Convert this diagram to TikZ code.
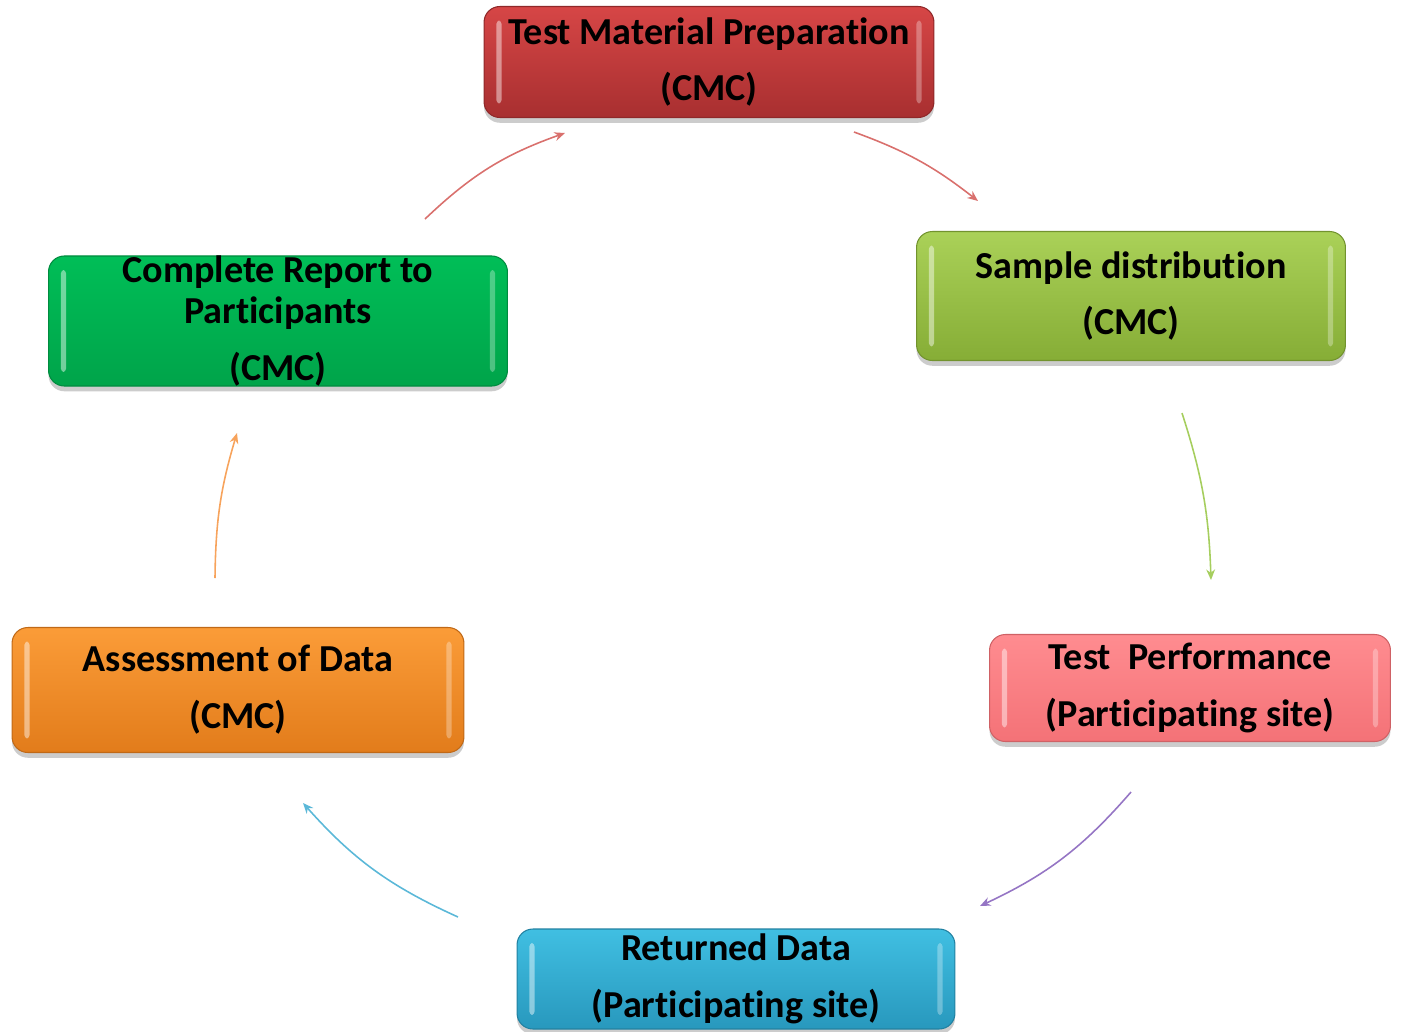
\documentclass[tikz,border=0pt]{standalone}
\usepackage{fontspec}
\setmainfont{Carlito}[Ligatures={NoCommon}]
\usetikzlibrary{arrows.meta,shadows}
\definecolor{prepTop}{HTML}{D64646}
\definecolor{prepBot}{HTML}{A82F30}
\definecolor{distTop}{HTML}{AAD158}
\definecolor{distBot}{HTML}{86AD36}
\definecolor{perfTop}{HTML}{FF8C90}
\definecolor{perfBot}{HTML}{F47277}
\definecolor{retTop}{HTML}{40BFE2}
\definecolor{retBot}{HTML}{2898BD}
\definecolor{assTop}{HTML}{FB9C38}
\definecolor{assBot}{HTML}{E27C1B}
\definecolor{repTop}{HTML}{00BE57}
\definecolor{repBot}{HTML}{00A44A}

\begin{document}
\begin{tikzpicture}[x=0.02cm,y=-0.02cm,
  stagebox/.style={rounded corners=9pt,inner sep=0pt,align=center,line width=0.6pt,
    font=\fontsize{21.7}{32.3}\selectfont\bfseries,
    drop shadow={shadow xshift=0pt,shadow yshift=-3pt,opacity=0.4},
    path picture={
      \fill[white,opacity=0.45,rounded corners=2pt]
        ([xshift=7pt,yshift=-8pt]path picture bounding box.north west) rectangle
        ([xshift=10pt,yshift=8pt]path picture bounding box.south west);
      \fill[white,opacity=0.3,rounded corners=2pt]
        ([xshift=-7pt,yshift=-8pt]path picture bounding box.north east) rectangle
        ([xshift=-10pt,yshift=8pt]path picture bounding box.south east);}},
  flow/.style={line width=0.9pt,-{Stealth[length=6pt,width=5pt]}}]
\useasboundingbox (0,0) rectangle (1401,1032);

% the six stages
\node[stagebox,draw=prepBot!85!black,top color=prepTop,bottom color=prepBot,
  minimum width=9cm,minimum height=2.22cm] (prep) at (709,62)
  {Test Material Preparation\\(CMC)};
\node[stagebox,draw=distBot!85!black,top color=distTop,bottom color=distBot,
  minimum width=8.58cm,minimum height=2.58cm] (dist) at (1131,296)
  {Sample distribution\\(CMC)};
\node[stagebox,draw=perfBot!85!black,top color=perfTop,bottom color=perfBot,
  minimum width=8.02cm,minimum height=2.14cm] (perf) at (1190,688)
  {Test\ \ Performance\\(Participating site)};
\node[stagebox,draw=retBot!85!black,top color=retTop,bottom color=retBot,
  minimum width=8.76cm,minimum height=2.0cm] (ret) at (736,979)
  {Returned Data\\(Participating site)};
\node[stagebox,draw=assBot!85!black,top color=assTop,bottom color=assBot,
  minimum width=9.04cm,minimum height=2.5cm] (assess) at (238,690)
  {Assessment of Data\\(CMC)};
\node[stagebox,draw=repBot!85!black,top color=repTop,bottom color=repBot,
  minimum width=9.18cm,minimum height=2.58cm] (report) at (278,321)
  {Complete Report to\\[-9.1pt]Participants\\(CMC)};

% arrow ends
\coordinate (report-out) at (425,219);
\coordinate (prep-in) at (565,133);
\coordinate (prep-out) at (854,132);
\coordinate (dist-in) at (978,201);
\coordinate (dist-out) at (1182,413);
\coordinate (perf-in) at (1211,580);
\coordinate (perf-out) at (1131,792);
\coordinate (ret-in) at (980,906);
\coordinate (ret-out) at (458,917);
\coordinate (assess-in) at (303,803);
\coordinate (assess-out) at (215,578);
\coordinate (report-in) at (237,433);

\foreach \a/\b/\c/\bend in {report-out/prep-in/D9706D/12,prep-out/dist-in/D9706D/9,
    dist-out/perf-in/A6CE5E/8,perf-out/ret-in/9575C4/12,
    ret-out/assess-in/5BB8D8/12,assess-out/report-in/F7A35C/8}
  { \definecolor{flowcol}{HTML}{\c}
    \draw[flow,flowcol] (\a) to[bend left=\bend] (\b); }
\end{tikzpicture}
\end{document}
